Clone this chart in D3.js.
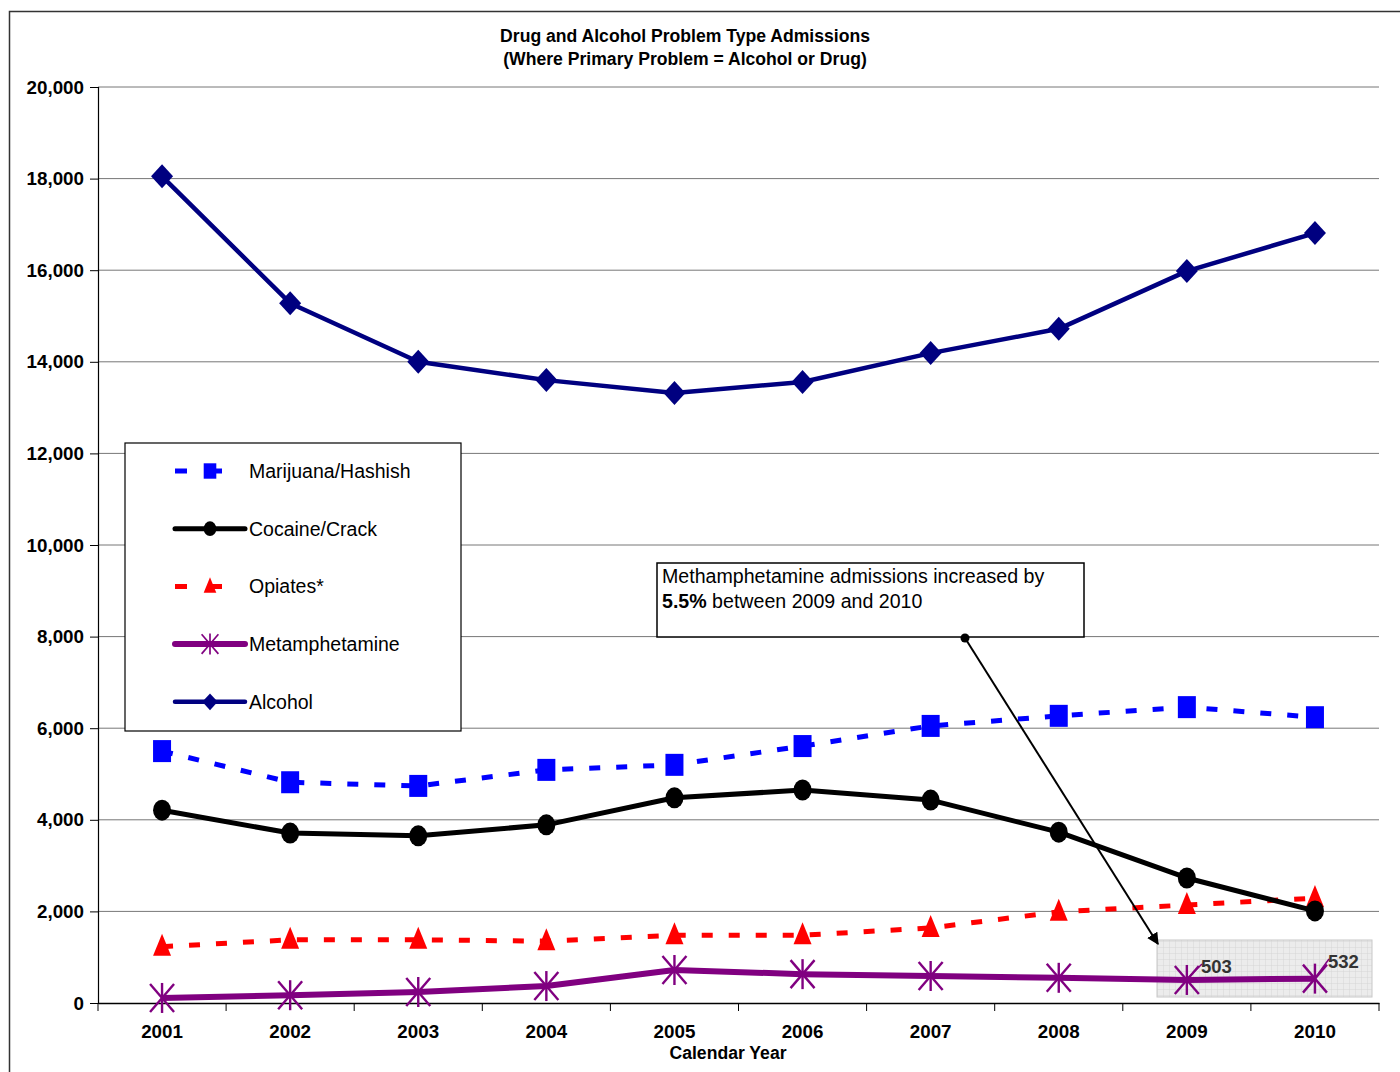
<!DOCTYPE html>
<html><head><meta charset="utf-8">
<script src="https://cdn.jsdelivr.net/npm/d3@7/dist/d3.min.js"></script>
<style>body{margin:0;background:#fff}svg{display:block;font-family:"Liberation Sans",Arial,Helvetica,sans-serif}</style>
</head><body><svg id="c" width="1400" height="1072"></svg>
<script>
const years = ["2001","2002","2003","2004","2005","2006","2007","2008","2009","2010"];
const marijuana = [5500,4820,4740,5090,5200,5610,6050,6270,6460,6240];
const cocaine = [4210,3710,3650,3890,4480,4650,4430,3730,2730,2010];
const opiates = [1230,1380,1380,1350,1480,1480,1640,1990,2140,2290];
const meth = [110,170,240,370,720,630,590,550,503,532];
const alcohol = [18050,15280,14000,13600,13320,13560,14190,14720,15980,16810];
const yTicks = [0,2000,4000,6000,8000,10000,12000,14000,16000,18000,20000];
const seriesNames = ["Marijuana/Hashish","Cocaine/Crack","Opiates*","Metamphetamine","Alcohol"];

const svg = d3.select("#c");
const L=98, R=1379, T=87, B=1003;
const x = d3.scaleBand().domain(years).range([L,R]);
const y = d3.scaleLinear().domain([0,20000]).range([B,T]);
const cx = d => x(d)+x.bandwidth()/2;

// outer border
svg.append("rect").attr("x",9.5).attr("y",11.5).attr("width",1400).attr("height",1080).attr("fill","none").attr("stroke","#333").attr("stroke-width",1.5);

// title
svg.append("text").attr("x",685).attr("y",42).attr("text-anchor","middle").attr("font-weight","bold").attr("font-size",17.6).text("Drug and Alcohol Problem Type Admissions");
svg.append("text").attr("x",685).attr("y",65).attr("text-anchor","middle").attr("font-weight","bold").attr("font-size",17.6).text("(Where Primary Problem = Alcohol or Drug)");

// gridlines
svg.append("g").selectAll("line").data(yTicks.filter(v=>v>0)).join("line")
  .attr("x1",L).attr("x2",R).attr("y1",d=>y(d)).attr("y2",d=>y(d)).attr("stroke","#777").attr("stroke-width",1);

// y axis
const ya = svg.append("g").attr("transform",`translate(${L},0)`).call(d3.axisLeft(y).tickValues(yTicks).tickSize(8).tickPadding(6).tickFormat(d3.format(",")));
ya.select(".domain").attr("stroke","#000").attr("stroke-width",1.2);
ya.selectAll("text").attr("font-size",18.8).attr("font-weight","bold").attr("fill","#000").attr("font-family","Liberation Sans, Arial, sans-serif");
ya.selectAll("line").attr("stroke","#000");

// x axis
const xa = svg.append("g").attr("transform",`translate(0,${B})`).call(d3.axisBottom(x).tickSize(0).tickPadding(22));
xa.select(".domain").attr("stroke","#000").attr("stroke-width",1.5);
xa.selectAll("text").attr("font-size",18.8).attr("font-weight","bold").attr("fill","#000").attr("font-family","Liberation Sans, Arial, sans-serif");
svg.append("g").selectAll("line").data(d3.range(years.length+1)).join("line")
  .attr("x1",i=>L+i*x.step()).attr("x2",i=>L+i*x.step()).attr("y1",B).attr("y2",B+8).attr("stroke","#000");
svg.append("text").attr("x",728).attr("y",1059).attr("text-anchor","middle").attr("font-weight","bold").attr("font-size",17.6).text("Calendar Year");

// markers
function marker(g, type, px, py, color){
  if(type==="square") g.append("rect").attr("x",px-9).attr("y",py-11).attr("width",18).attr("height",22).attr("fill",color);
  else if(type==="circle") g.append("ellipse").attr("cx",px).attr("cy",py).attr("rx",9).attr("ry",10.5).attr("fill",color);
  else if(type==="triangle") g.append("path").attr("d",`M${px},${py-13}L${px+9},${py+9}L${px-9},${py+9}Z`).attr("fill",color);
  else if(type==="diamond") g.append("path").attr("d",`M${px},${py-12}L${px+11},${py}L${px},${py+12}L${px-11},${py}Z`).attr("fill",color);
  else if(type==="star"){
    const s=g.append("g").attr("stroke",color).attr("stroke-width",2.4);
    s.append("line").attr("x1",px).attr("x2",px).attr("y1",py-15).attr("y2",py+15);
    s.append("line").attr("x1",px-12).attr("x2",px+12).attr("y1",py-14).attr("y2",py+14);
    s.append("line").attr("x1",px-12).attr("x2",px+12).attr("y1",py+14).attr("y2",py-14);
  }
}

const series = [
  {name:seriesNames[3], vals:meth, color:"#800080", dash:null, w:6, m:"star"},
  {name:seriesNames[2], vals:opiates, color:"#FF0000", dash:"11,16", w:5, m:"triangle"},
  {name:seriesNames[1], vals:cocaine, color:"#000000", dash:null, w:5, m:"circle"},
  {name:seriesNames[0], vals:marijuana, color:"#0000FF", dash:"11,16", w:5, m:"square"},
  {name:seriesNames[4], vals:alcohol, color:"#000080", dash:null, w:4.5, m:"diamond"}
];
const line = d3.line().x((d,i)=>cx(years[i])).y(d=>y(d));

// highlight box behind meth end points
const pat = svg.append("defs").append("pattern").attr("id","grid").attr("width",6).attr("height",6).attr("patternUnits","userSpaceOnUse");
pat.append("rect").attr("width",6).attr("height",6).attr("fill","#ececec");
pat.append("path").attr("d","M6,0V6M0,6H6").attr("stroke","#d6d6d6").attr("stroke-width",1);
svg.append("rect").attr("x",1157).attr("y",940).attr("width",215).attr("height",57).attr("fill","url(#grid)").attr("stroke","#c8c8c8");

series.forEach(s=>{
  const g = svg.append("g");
  g.append("path").datum(s.vals).attr("d",line).attr("fill","none").attr("stroke",s.color).attr("stroke-width",s.w)
    .attr("stroke-dasharray",s.dash).attr("stroke-linejoin","round");
  s.vals.forEach((v,i)=>marker(g,s.m,cx(years[i]),y(v),s.color));
});

// meth labels
[[8,"503",1201,973],[9,"532",1328,968]].forEach(([i,t,tx,ty])=>{
  svg.append("line").attr("x1",cx(years[i])+1).attr("y1",y(meth[i])-2).attr("x2",tx+1).attr("y2",ty-9).attr("stroke","#800080").attr("stroke-width",1.5);
  svg.append("text").attr("x",tx).attr("y",ty).attr("font-size",18.5).attr("font-weight","bold").attr("fill","#333").text(t);
});

// legend
const lg = svg.append("g");
lg.append("rect").attr("x",125).attr("y",443).attr("width",336).attr("height",288).attr("fill","#fff").attr("stroke","#000").attr("stroke-width",1.2);
const legOrder = [3,2,1,0,4];
legOrder.forEach((si,k)=>{
  const s = series[si];
  const ly = 471 + k*57.7;
  lg.append("line").attr("x1",175).attr("x2",245).attr("y1",ly).attr("y2",ly).attr("stroke",s.color).attr("stroke-width",s.w)
    .attr("stroke-dasharray",s.dash?"12,23":null).attr("stroke-linecap",s.dash?"butt":"round");
  const mg = lg.append("g").attr("transform",`translate(${210},${ly}) scale(0.7) translate(${-210},${-ly})`);
  marker(mg,s.m,210,ly,s.color);
  lg.append("text").attr("x",249).attr("y",ly+7).attr("font-size",19.5).text(s.name);
});

// annotation
svg.append("rect").attr("x",657).attr("y",563).attr("width",427).attr("height",74).attr("fill","#fff").attr("stroke","#000").attr("stroke-width",1.5);
svg.append("text").attr("x",662).attr("y",583).attr("font-size",19.6).text("Methamphetamine admissions increased by");
const t2 = svg.append("text").attr("x",662).attr("y",608).attr("font-size",19.6);
t2.append("tspan").attr("font-weight","bold").text("5.5%");
t2.append("tspan").text(" between 2009 and 2010");
svg.append("defs").append("marker").attr("id","arr").attr("viewBox","0 0 10 10").attr("refX",9).attr("refY",5)
  .attr("markerWidth",6).attr("markerHeight",6).attr("orient","auto").append("path").attr("d","M0,0L10,5L0,10Z").attr("fill","#000");
svg.append("circle").attr("cx",965).attr("cy",638).attr("r",4.5).attr("fill","#000");
svg.append("line").attr("x1",965).attr("y1",638).attr("x2",1158).attr("y2",944).attr("stroke","#000").attr("stroke-width",2).attr("marker-end","url(#arr)");
</script></body></html>
